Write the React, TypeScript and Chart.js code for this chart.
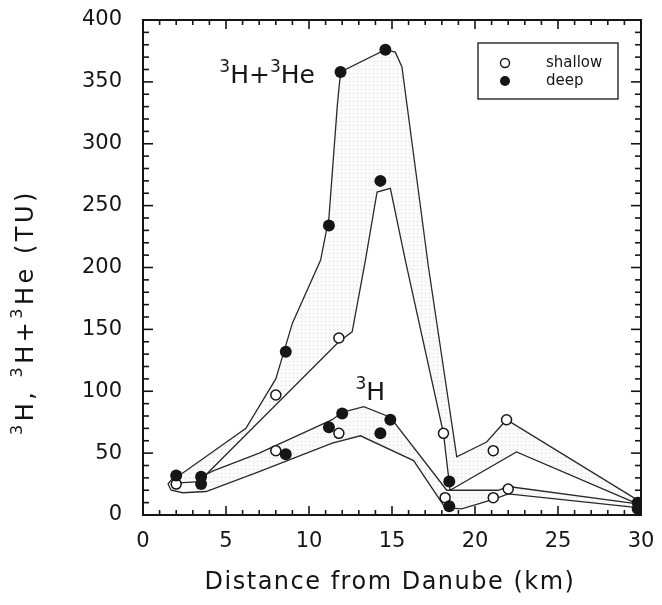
import React, { useEffect, useRef } from "react";
import { Chart, registerables } from "chart.js";

Chart.register(...registerables);

// ---- axis ticks ----
const X_TICKS = [0, 5, 10, 15, 20, 25, 30];
const Y_TICKS = [0, 50, 100, 150, 200, 250, 300, 350, 400];
const X_MINOR = 1;
const Y_MINOR = 10;

// ---- band outlines (km, TU) ----
const totalUpper: [number, number][] = [
  [1.5, 25], [1.8, 30], [2.4, 34], [6.2, 70], [8.0, 110], [9.0, 155], [10.7, 206],
  [11.2, 240], [11.7, 330], [11.9, 358], [14.6, 376], [15.2, 374], [15.6, 362],
  [17.2, 200], [18.9, 47], [20.7, 59], [21.9, 77], [29.8, 12],
];
const totalLower: [number, number][] = [
  [2.2, 26], [3.5, 27], [3.9, 34], [11.8, 140], [12.6, 148], [13.4, 206], [14.1, 261],
  [14.9, 264], [15.8, 206], [18.1, 66], [18.5, 20], [22.5, 51], [29.8, 9],
];
const tritiumUpper: [number, number][] = [
  [3.5, 31], [4.3, 36], [7.0, 50], [11.4, 77], [12.0, 83], [13.3, 87.5], [14.9, 79],
  [18.3, 20], [21.4, 20], [22.0, 23], [29.8, 9],
];
const tritiumLower: [number, number][] = [
  [1.5, 25], [1.7, 20], [2.4, 18], [3.8, 19], [7.0, 35], [11.4, 58], [13.1, 64],
  [16.3, 44], [18.2, 6], [19.2, 5], [21.2, 13], [22.0, 17], [29.8, 6],
];

// ---- measured samples ----
const shallowPoints: [number, number][] = [
  [2.0, 25], [8.0, 97], [11.8, 143], [18.1, 66], [21.1, 52], [21.9, 77],
  [8.0, 52], [11.8, 66], [18.2, 14], [21.1, 14], [22.0, 21],
];
const deepPoints: [number, number][] = [
  [2.0, 32], [3.5, 31], [3.5, 25], [8.6, 132], [11.2, 234], [11.9, 358], [14.3, 270],
  [14.6, 376], [18.45, 27], [29.8, 10], [8.6, 49], [11.2, 71], [12.0, 82], [14.9, 77],
  [14.3, 66], [18.45, 7], [29.8, 5],
];

// ---- texts ("^3" = superscript 3) ----
const X_TITLE = "Distance from Danube (km)";
const Y_TITLE = "^3H, ^3H+^3He (TU)";
const LEGEND_LABELS = ["shallow", "deep"];
const BAND_LABELS: { text: string; x: number; y: number }[] = [
  { text: "^3H+^3He", x: 4.6, y: 349 },
  { text: "^3H", x: 12.8, y: 93 },
];

const FONT = "'DejaVu Sans', 'Liberation Sans', sans-serif";
const INK = "#151515";
const LINE_INK = "#2a2a2a";

const toXY = (a: [number, number][]) => a.map(([x, y]) => ({ x, y }));

function parseRich(s: string) {
  const parts: { t: string; sup: boolean }[] = [];
  let buf = "";
  for (let i = 0; i < s.length; i++) {
    if (s[i] === "^") {
      if (buf) parts.push({ t: buf, sup: false });
      buf = "";
      parts.push({ t: s[i + 1], sup: true });
      i++;
    } else buf += s[i];
  }
  if (buf) parts.push({ t: buf, sup: false });
  return parts;
}

function drawRich(ctx: CanvasRenderingContext2D, s: string, x: number, y: number, size: number, align: "left" | "center") {
  const parts = parseRich(s);
  const supSize = Math.round(size * 0.66);
  ctx.textAlign = "left";
  ctx.textBaseline = "alphabetic";
  let total = 0;
  const widths = parts.map((p) => {
    ctx.font = `${p.sup ? supSize : size}px ${FONT}`;
    const w = ctx.measureText(p.t).width;
    total += w;
    return w;
  });
  let cx = align === "center" ? x - total / 2 : x;
  parts.forEach((p, i) => {
    ctx.font = `${p.sup ? supSize : size}px ${FONT}`;
    ctx.fillText(p.t, cx, p.sup ? y - size * 0.45 : y);
    cx += widths[i];
  });
}

export default function App() {
  const ref = useRef<HTMLCanvasElement>(null);

  useEffect(() => {
    const canvas = ref.current!;
    const pc = document.createElement("canvas");
    pc.width = 4;
    pc.height = 4;
    const pctx = pc.getContext("2d")!;
    pctx.fillStyle = "rgba(0,0,0,0.015)";
    pctx.fillRect(0, 0, 4, 4);
    pctx.fillStyle = "rgba(0,0,0,0.14)";
    pctx.fillRect(1, 1, 1, 1);
    const pattern = canvas.getContext("2d")!.createPattern(pc, "repeat");

    const framePlugin = {
      id: "frame",
      beforeDatasetsDraw(chart: any) {
        const { ctx, chartArea, scales } = chart;
        const { left, right, top, bottom } = chartArea;
        const xs = scales.x;
        const ys = scales.y;
        ctx.save();
        ctx.strokeStyle = INK;
        ctx.lineWidth = 2;
        ctx.strokeRect(left, top, right - left, bottom - top);
        ctx.lineWidth = 1.6;
        const seg = (x1: number, y1: number, x2: number, y2: number) => {
          ctx.beginPath();
          ctx.moveTo(x1, y1);
          ctx.lineTo(x2, y2);
          ctx.stroke();
        };
        const x0 = X_TICKS[0], x1 = X_TICKS[X_TICKS.length - 1];
        for (let v = x0; v <= x1 + 1e-9; v += X_MINOR) {
          const px = xs.getPixelForValue(v);
          const major = X_TICKS.includes(Math.round(v));
          const len = major ? 9 : 5;
          seg(px, bottom, px, bottom - len);
          seg(px, top, px, top + len);
        }
        const y0 = Y_TICKS[0], y1 = Y_TICKS[Y_TICKS.length - 1];
        for (let v = y0; v <= y1 + 1e-9; v += Y_MINOR) {
          const py = ys.getPixelForValue(v);
          const major = Y_TICKS.includes(Math.round(v));
          const len = major ? 10 : 6;
          seg(left, py, left + len, py);
          seg(right, py, right - len, py);
        }
        ctx.restore();
      },
      afterDatasetsDraw(chart: any) {
        const { ctx, chartArea, scales } = chart;
        const { right, top } = chartArea;
        ctx.save();
        ctx.fillStyle = INK;
        for (const l of BAND_LABELS) {
          drawRich(ctx, l.text, scales.x.getPixelForValue(l.x), scales.y.getPixelForValue(l.y), 25, "left");
        }
        // legend
        const bx = right - 163, by = top + 23, bw = 140, bh = 56;
        ctx.strokeStyle = INK;
        ctx.lineWidth = 1.3;
        ctx.strokeRect(bx, by, bw, bh);
        const sx = bx + 27;
        const rows = [by + 20, by + 38];
        ctx.beginPath();
        ctx.arc(sx, rows[0], 4.5, 0, Math.PI * 2);
        ctx.fillStyle = "#fff";
        ctx.fill();
        ctx.lineWidth = 1.4;
        ctx.stroke();
        ctx.beginPath();
        ctx.arc(sx, rows[1], 5, 0, Math.PI * 2);
        ctx.fillStyle = INK;
        ctx.fill();
        ctx.font = `15px ${FONT}`;
        ctx.textAlign = "left";
        ctx.textBaseline = "middle";
        ctx.fillText(LEGEND_LABELS[0], bx + 68, rows[0]);
        ctx.fillText(LEGEND_LABELS[1], bx + 68, rows[1]);
        ctx.restore();
      },
      afterDraw(chart: any) {
        const { ctx } = chart;
        ctx.save();
        ctx.fillStyle = INK;
        ctx.textAlign = "center";
        ctx.textBaseline = "middle";
        (ctx as any).letterSpacing = "1.5px";
        ctx.font = `24px ${FONT}`;
        ctx.fillText(X_TITLE, 390, 583);
        ctx.translate(33, 312);
        ctx.rotate(-Math.PI / 2);
        (ctx as any).letterSpacing = "3.5px";
        drawRich(ctx, Y_TITLE, 0, 0, 24, "center");
        ctx.restore();
      },
    };

    const lineStyle = {
      borderColor: LINE_INK,
      borderWidth: 1.3,
      pointRadius: 0,
      showLine: true,
      tension: 0,
      order: 2,
    };

    const chart = new Chart(canvas, {
      type: "scatter",
      data: {
        datasets: [
          { ...lineStyle, data: toXY(totalUpper), fill: { target: "+1" }, backgroundColor: pattern as any },
          { ...lineStyle, data: toXY(totalLower), fill: false },
          { ...lineStyle, data: toXY(tritiumUpper), fill: { target: "+1" }, backgroundColor: pattern as any },
          { ...lineStyle, data: toXY(tritiumLower), fill: false },
          {
            data: toXY(shallowPoints),
            showLine: false,
            pointRadius: 5,
            pointBackgroundColor: "#fff",
            pointBorderColor: INK,
            pointBorderWidth: 1.5,
            order: 1,
          },
          {
            data: toXY(deepPoints),
            showLine: false,
            pointRadius: 6,
            pointBackgroundColor: INK,
            pointBorderColor: INK,
            pointBorderWidth: 0,
            order: 0,
          },
        ],
      },
      options: {
        animation: false,
        responsive: true,
        maintainAspectRatio: false,
        layout: { padding: { top: 20, right: 21, left: 0, bottom: 0 } },
        plugins: {
          legend: { display: false },
          tooltip: { enabled: false },
          filler: { propagate: false },
        },
        scales: {
          x: {
            type: "linear",
            min: X_TICKS[0],
            max: X_TICKS[X_TICKS.length - 1],
            afterBuildTicks: (s: any) => {
              s.ticks = X_TICKS.map((v) => ({ value: v }));
            },
            afterFit: (s: any) => {
              s.height = 90;
              s.paddingLeft = 0;
              s.paddingRight = 0;
              s.paddingTop = 0;
              s.paddingBottom = 0;
            },
            grid: { display: false, drawTicks: false },
            border: { display: false },
            ticks: {
              font: { family: FONT, size: 21 },
              color: INK,
              padding: 14,
              maxRotation: 0,
              autoSkip: false,
            },
          },
          y: {
            type: "linear",
            min: Y_TICKS[0],
            max: Y_TICKS[Y_TICKS.length - 1],
            afterBuildTicks: (s: any) => {
              s.ticks = Y_TICKS.map((v) => ({ value: v }));
            },
            afterFit: (s: any) => {
              s.width = 143;
              s.paddingLeft = 0;
              s.paddingRight = 0;
              s.paddingTop = 0;
              s.paddingBottom = 0;
            },
            grid: { display: false, drawTicks: false },
            border: { display: false },
            ticks: {
              font: { family: FONT, size: 21 },
              color: INK,
              padding: 21,
              autoSkip: false,
            },
          },
        },
      },
      plugins: [framePlugin],
    });
    return () => chart.destroy();
  }, []);

  return (
    <div style={{ position: "fixed", left: 0, top: 0, width: 662, height: 605, background: "#fff" }}>
      <canvas ref={ref} />
    </div>
  );
}
